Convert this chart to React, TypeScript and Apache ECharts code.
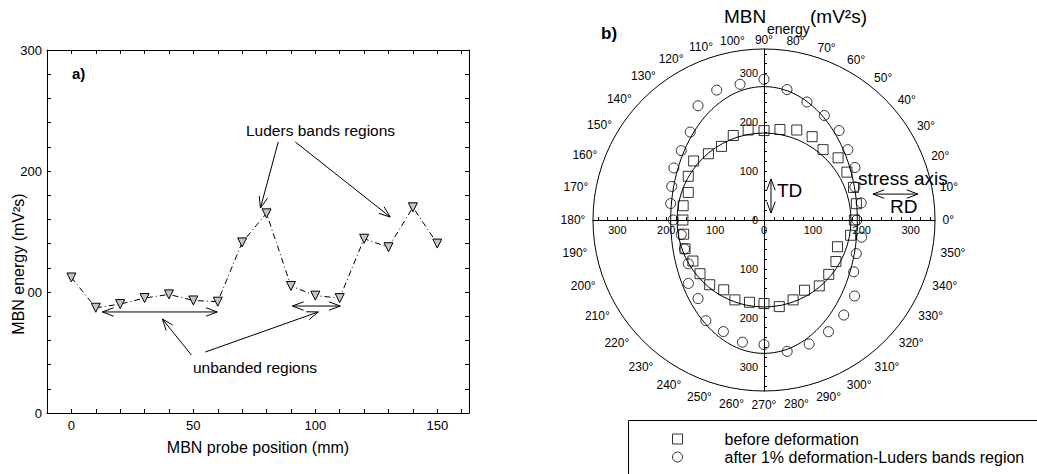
import React, { useEffect, useRef } from 'react';
import * as echarts from 'echarts';

const FONT = '"Liberation Sans", Arial, Helvetica, sans-serif';

// ---------- Panel a) ----------
const positions = [0, 10, 20, 30, 40, 50, 60, 70, 80, 90, 100, 110, 120, 130, 140, 150];
const mbnEnergy = [112, 87, 90, 95, 98, 93, 92, 141, 165, 105, 97, 95, 144, 137, 170, 140];
const xTickValues = [0, 50, 100, 150];
const yTickValues = [0, 100, 200, 300];
const yTickLabels = ['0', '00', '200', '300'];
// annotation arrows in data units: [x1, y1, x2(tip), y2(tip), heads]
const arrowsA = [
  [84.8, 224, 77.5, 169.4, 1],
  [91.8, 224, 130.7, 162, 1],
  [49.2, 47.9, 37.3, 77.7, 1],
  [54.9, 50.4, 101.2, 83.5, 1],
  [12.7, 83.5, 59.8, 83.5, 2],
  [90.6, 88.4, 110.2, 88.4, 2],
];

// ---------- Panel b) ----------
const angles = [0, 10, 20, 30, 40, 50, 60, 70, 80, 90, 100, 110, 120, 130, 140, 150, 160, 170,
  180, 190, 200, 210, 220, 230, 240, 250, 260, 270, 280, 290, 300, 310, 320, 330, 340, 350];
const beforeDef = [185, 192, 195, 196, 198, 188, 197, 196, 188, 183, 187, 184, 174, 177, 188, 179, 165, 168,
  166, 167, 172, 168, 171, 173, 165, 174, 171, 171, 180, 174, 166, 176, 173, 170, 160, 180];
const afterDef = [190, 202, 198, 215, 224, 239, 247, 257, 271, 288, 282, 283, 270, 235, 221, 213, 201, 194,
  186, 172, 173, 179, 202, 210, 238, 243, 254, 255, 273, 270, 264, 254, 242, 212, 201, 203];
const radialTickValues = [-300, -200, -100, 0, 100, 200, 300];
const radiusMax = 350;
// fitted ellipses: semi-axis along 0° and along 90°
const fitBefore = [178, 178];
const fitAfter = [191, 273];
const arrowsB = [
  [14.3, 14.3, 14.3, 84, 2],
  [223, 53, 315, 53, 2],
];

const crossTicks = Array.from({ length: 35 }, (_, i) => -340 + i * 20);

function arrowRender(_params: any, api: any) {
  const p1 = api.coord([api.value(0), api.value(1)]);
  const p2 = api.coord([api.value(2), api.value(3)]);
  const both = api.value(4) === 2;
  const L = 12;
  const A = 0.36;
  const head = (tip: number[], from: number[]) => {
    const ang = Math.atan2(from[1] - tip[1], from[0] - tip[0]);
    return {
      type: 'polyline',
      shape: {
        points: [
          [tip[0] + L * Math.cos(ang + A), tip[1] + L * Math.sin(ang + A)],
          [tip[0], tip[1]],
          [tip[0] + L * Math.cos(ang - A), tip[1] + L * Math.sin(ang - A)],
        ],
      },
      style: { fill: 'none', stroke: '#000', lineWidth: 1 },
    };
  };
  const children: any[] = [
    { type: 'line', shape: { x1: p1[0], y1: p1[1], x2: p2[0], y2: p2[1] }, style: { stroke: '#000', lineWidth: 1 } },
    head(p2, p1),
  ];
  if (both) children.push(head(p1, p2));
  return { type: 'group', children };
}

function ellipseRender(_params: any, api: any) {
  const a = api.value(0);
  const b = api.value(1);
  const c = api.coord([0, 0]);
  const px = api.coord([a, 0]);
  const py = api.coord([b, 90]);
  return {
    type: 'ellipse',
    shape: { cx: c[0], cy: c[1], rx: Math.abs(px[0] - c[0]), ry: Math.abs(py[1] - c[1]) },
    style: { fill: 'none', stroke: '#000', lineWidth: 1 },
  };
}

function angleLabelRender(_params: any, api: any) {
  const ang = api.value(1);
  const c = api.coord([0, 0]);
  const p = api.coord([api.value(0), ang]);
  const dx = p[0] - c[0];
  const dy = p[1] - c[1];
  const len = Math.hypot(dx, dy) || 1;
  const ux = dx / len;
  const uy = dy / len;
  const w = String(ang).length * 6.7 + 4;
  const off = 8 + 0.5 * w * Math.abs(ux) + (uy < 0 ? 1 : 6) * Math.abs(uy);
  return {
    type: 'text',
    x: p[0] + ux * off,
    y: p[1] + uy * off,
    style: {
      text: `${ang}°`,
      align: 'center',
      verticalAlign: 'middle',
      fontSize: 12,
      fontFamily: FONT,
      fill: '#000',
    },
  };
}

const txt = (text: string, x: number, y: number, size: number, extra: any = {}) => ({
  type: 'text',
  x,
  y,
  silent: true,
  ...extra,
  style: {
    text,
    fontSize: size,
    fontFamily: FONT,
    fill: '#000',
    align: 'left',
    verticalAlign: 'middle',
    ...(extra.style || {}),
  },
});

const tickLabel = { color: '#000', fontFamily: FONT };

export default function App() {
  const ref = useRef<HTMLDivElement>(null);
  useEffect(() => {
    const chart = echarts.init(ref.current!, null, { renderer: 'svg' });
    const option: any = {
      animation: false,
      backgroundColor: '#fff',
      grid: [
        { left: 47, top: 50, width: 422, height: 363 },
        { left: 593, top: 49, width: 342, height: 342 },
      ],
      xAxis: [
        {
          gridIndex: 0, type: 'value', min: -10, max: 163, interval: 10, position: 'bottom',
          axisLine: { onZero: false, lineStyle: { color: '#000', width: 1 } },
          axisTick: { inside: true, length: 4, lineStyle: { color: '#000' } },
          axisLabel: { ...tickLabel, fontSize: 13, margin: 6, customValues: xTickValues },
          splitLine: { show: false },
          name: 'MBN probe position (mm)', nameLocation: 'middle', nameGap: 26,
          nameTextStyle: { fontSize: 16, fontFamily: FONT, color: '#000' },
        },
        {
          gridIndex: 0, type: 'value', min: -10, max: 163, interval: 10, position: 'top',
          axisLine: { onZero: false, lineStyle: { color: '#000', width: 1 } },
          axisTick: { inside: true, length: 4, lineStyle: { color: '#000' } },
          axisLabel: { show: false }, splitLine: { show: false },
        },
        {
          gridIndex: 1, type: 'value', min: -350, max: 350, position: 'bottom', offset: -171,
          axisLine: { onZero: false, lineStyle: { color: '#000', width: 1 } },
          axisTick: { inside: true, length: 3, customValues: crossTicks, lineStyle: { color: '#000' } },
          axisLabel: { ...tickLabel, fontSize: 11, margin: 4, customValues: radialTickValues, formatter: (v: number) => String(Math.abs(v)) },
          splitLine: { show: false },
        },
      ],
      yAxis: [
        {
          gridIndex: 0, type: 'value', min: 0, max: 300, interval: 20, position: 'left',
          axisLine: { onZero: false, lineStyle: { color: '#000', width: 1 } },
          axisTick: { inside: true, length: 4, lineStyle: { color: '#000' } },
          axisLabel: {
            ...tickLabel, fontSize: 13, margin: 5, customValues: yTickValues,
            formatter: (v: number) => yTickLabels[yTickValues.indexOf(v)],
          },
          splitLine: { show: false },
        },
        {
          gridIndex: 0, type: 'value', min: 0, max: 300, interval: 20, position: 'right',
          axisLine: { onZero: false, lineStyle: { color: '#000', width: 1 } },
          axisTick: { inside: true, length: 4, lineStyle: { color: '#000' } },
          axisLabel: { show: false }, splitLine: { show: false },
        },
        {
          gridIndex: 1, type: 'value', min: -350, max: 350, position: 'left', offset: -171,
          axisLine: { onZero: false, lineStyle: { color: '#000', width: 1 } },
          axisTick: { inside: true, length: 3, customValues: crossTicks, lineStyle: { color: '#000' } },
          axisLabel: { ...tickLabel, fontSize: 11, margin: 6, customValues: radialTickValues, formatter: (v: number) => String(Math.abs(v)) },
          splitLine: { show: false },
        },
      ],
      polar: { center: [764, 220], radius: 171 },
      angleAxis: {
        type: 'value', min: 0, max: 360, interval: 10, startAngle: 0, clockwise: false,
        axisLine: { show: true, lineStyle: { color: '#000', width: 1 } },
        axisTick: { show: false },
        splitLine: { show: false },
        axisLabel: { show: false },
      },
      radiusAxis: { type: 'value', min: 0, max: radiusMax, show: false },
      legend: {
        left: 672, top: 431, orient: 'vertical', padding: 0, itemGap: 2,
        itemWidth: 10, itemHeight: 10, selectedMode: false,
        textStyle: { fontSize: 16, fontFamily: FONT, color: '#000', padding: [0, 0, 0, 37] },
        itemStyle: { color: 'rgba(0,0,0,0)', borderColor: '#000', borderWidth: 1 },
        data: [
          { name: 'before deformation', icon: 'rect' },
          { name: 'after 1% deformation-Luders bands region', icon: 'circle' },
        ],
      },
      series: [
        {
          type: 'line', xAxisIndex: 0, yAxisIndex: 0,
          data: positions.map((p, i) => [p, mbnEnergy[i]]),
          symbol: 'triangle', symbolRotate: 180, symbolSize: 9,
          itemStyle: { color: '#c4c4c4', borderColor: '#000', borderWidth: 1 },
          lineStyle: { color: '#000', width: 1, type: [6, 3, 1, 3] },
          z: 3,
        },
        {
          type: 'custom', xAxisIndex: 0, yAxisIndex: 0, data: arrowsA,
          encode: { x: [0, 2], y: [1, 3] }, renderItem: arrowRender, silent: true, z: 4,
        },
        {
          type: 'custom', coordinateSystem: 'polar', data: angles.map((a) => [radiusMax, a]),
          renderItem: angleLabelRender, silent: true, z: 2,
        },
        {
          type: 'custom', coordinateSystem: 'polar', data: [fitBefore], renderItem: ellipseRender, silent: true, z: 2,
        },
        {
          type: 'custom', coordinateSystem: 'polar', data: [fitAfter], renderItem: ellipseRender, silent: true, z: 2,
        },
        {
          name: 'before deformation', type: 'scatter', coordinateSystem: 'polar',
          data: angles.map((a, i) => [beforeDef[i], a]),
          symbol: 'rect', symbolSize: 10,
          itemStyle: { color: 'rgba(0,0,0,0)', borderColor: '#000', borderWidth: 1 }, z: 3,
        },
        {
          name: 'after 1% deformation-Luders bands region', type: 'scatter', coordinateSystem: 'polar',
          data: angles.map((a, i) => [afterDef[i], a]),
          symbol: 'circle', symbolSize: 10,
          itemStyle: { color: 'rgba(0,0,0,0)', borderColor: '#000', borderWidth: 1 }, z: 3,
        },
        {
          type: 'custom', xAxisIndex: 2, yAxisIndex: 2, data: arrowsB,
          encode: { x: [0, 2], y: [1, 3] }, renderItem: arrowRender, silent: true, z: 4,
        },
      ],
      graphic: [
        txt('MBN energy (mV²s)', 18, 264, 16, { rotation: Math.PI / 2, style: { align: 'center' } }),
        txt('a)', 72, 73, 15, { style: { fontWeight: 'bold' } }),
        txt('Luders bands regions', 246, 130, 15.5),
        txt('unbanded regions', 193, 367, 15.5),
        txt('b)', 601, 33, 17, { style: { fontWeight: 'bold' } }),
        txt('MBN', 724, 16, 19),
        txt('energy', 767, 29, 14),
        txt('(mV²s)', 810, 16, 19),
        txt('TD', 777, 190, 19),
        txt('stress axis', 858, 178, 19),
        txt('RD', 890, 206, 19),
        {
          type: 'rect', silent: true,
          shape: { x: 628.5, y: 420.5, width: 500, height: 100 },
          style: { fill: 'none', stroke: '#000', lineWidth: 1 },
        },
      ],
    };
    chart.setOption(option);
    return () => chart.dispose();
  }, []);
  return (
    <div
      ref={ref}
      style={{ position: 'fixed', left: 0, top: 0, width: 1037, height: 474, background: '#fff' }}
    />
  );
}
